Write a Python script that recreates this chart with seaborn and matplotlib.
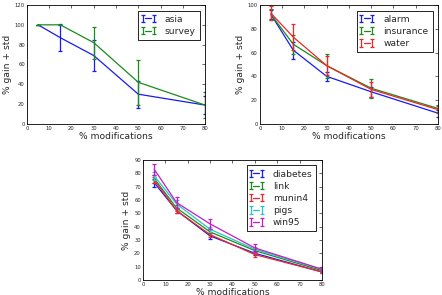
import numpy as np
import pandas as pd
import seaborn as sns
import matplotlib
matplotlib.use("Agg")
import matplotlib.pyplot as plt
from matplotlib.legend_handler import HandlerErrorbar

x_mod = [5, 15, 30, 50, 80]

# panel 1
asia = [100, 87, 69, 30, 19]
asia_err = [0, 13.5, 15.5, 13.5, 9]
survey = [100, 100, 82, 42, 19]
survey_err = [0, 0, 16, 22.5, 13]

# panel 2
alarm = [92, 62, 40, 27, 9]
alarm_err = [4, 7, 4, 4, 3]
insurance = [92, 67, 49, 30, 13]
insurance_err = [5, 8, 10, 8, 3]
water = [93, 73, 49, 29, 12]
water_err = [6, 11, 8, 6, 3]

# panel 3
diabetes = [73, 52, 33, 20, 6]
diabetes_err = [3, 2, 2, 1.5, 1]
link = [76, 54, 36, 22, 7]
link_err = [3, 2, 2, 1.5, 1]
munin4 = [75, 52, 34, 19, 6]
munin4_err = [2, 2, 1.5, 1.5, 1]
pigs = [78, 57, 38, 23, 8]
pigs_err = [3, 3, 2, 2, 1]
win95 = [83, 58, 42, 24, 8]
win95_err = [4, 4, 4, 3, 1.5]

sns.set_style("white")
plt.rcParams["font.family"] = ["DejaVu Sans"]
plt.rcParams.update({
    "xtick.direction": "in", "ytick.direction": "in",
    "xtick.top": True, "ytick.right": True,
    "xtick.major.size": 2.5, "ytick.major.size": 2.5,
    "xtick.major.width": 0.5, "ytick.major.width": 0.5,
    "xtick.labelsize": 3.8, "ytick.labelsize": 3.8,
    "axes.labelsize": 6.6, "legend.fontsize": 6.6,
    "axes.edgecolor": "black", "axes.linewidth": 0.6,
    "xtick.major.pad": 1.5, "ytick.major.pad": 1.5,
})

CL = {"b": (0.1, 0.1, 0.95), "g": (0.1, 0.55, 0.1), "r": (0.95, 0.15, 0.15),
      "c": (0.15, 0.78, 0.78), "m": (0.78, 0.1, 0.78)}

fig = plt.figure(figsize=(4.42, 2.95), dpi=100)


def panel(rect, series, ylim, yticks):
    ax = fig.add_axes(rect)
    handles = []
    for name, vals, errs, col in series:
        df = pd.DataFrame({"x": x_mod, "y": vals})
        sns.lineplot(data=df, x="x", y="y", ax=ax, color=CL[col], lw=0.9, legend=False)
        ln = ax.lines[-1]
        eb = ax.errorbar(x_mod, vals, yerr=errs, fmt="none", ecolor=CL[col],
                         elinewidth=0.9, capsize=1.5, capthick=0.9)
        handles.append(((ln, eb), name))
    ax.set_xlim(0, 80)
    ax.set_xticks(range(0, 81, 10))
    ax.set_ylim(*ylim)
    ax.set_yticks(yticks)
    ax.set_xlabel("% modifications", labelpad=1)
    ax.set_ylabel("% gain + std", labelpad=2)
    eb_type = type(handles[0][0][1])
    leg = ax.legend([h for h, _ in handles], [n for _, n in handles], loc="upper right",
                    numpoints=2, handlelength=1.2, fancybox=False, framealpha=1,
                    edgecolor="black", borderaxespad=0.6, handletextpad=1.2,
                    labelspacing=0.35, borderpad=0.45,
                    handler_map={eb_type: HandlerErrorbar(marker_pad=0, yerr_size=0.4, numpoints=2)})
    leg.get_frame().set_linewidth(0.6)
    return ax


panel([0.061, 0.58, 0.403, 0.403],
      [("asia", asia, asia_err, "b"), ("survey", survey, survey_err, "g")],
      (0, 120), range(0, 121, 20))
panel([0.588, 0.58, 0.403, 0.403],
      [("alarm", alarm, alarm_err, "b"), ("insurance", insurance, insurance_err, "g"),
       ("water", water, water_err, "r")],
      (0, 100), range(0, 101, 20))
panel([0.3235, 0.051, 0.405, 0.407],
      [("diabetes", diabetes, diabetes_err, "b"), ("link", link, link_err, "g"),
       ("munin4", munin4, munin4_err, "r"), ("pigs", pigs, pigs_err, "c"),
       ("win95", win95, win95_err, "m")],
      (0, 90), range(0, 91, 10))

fig.savefig("out.png", dpi=100)
